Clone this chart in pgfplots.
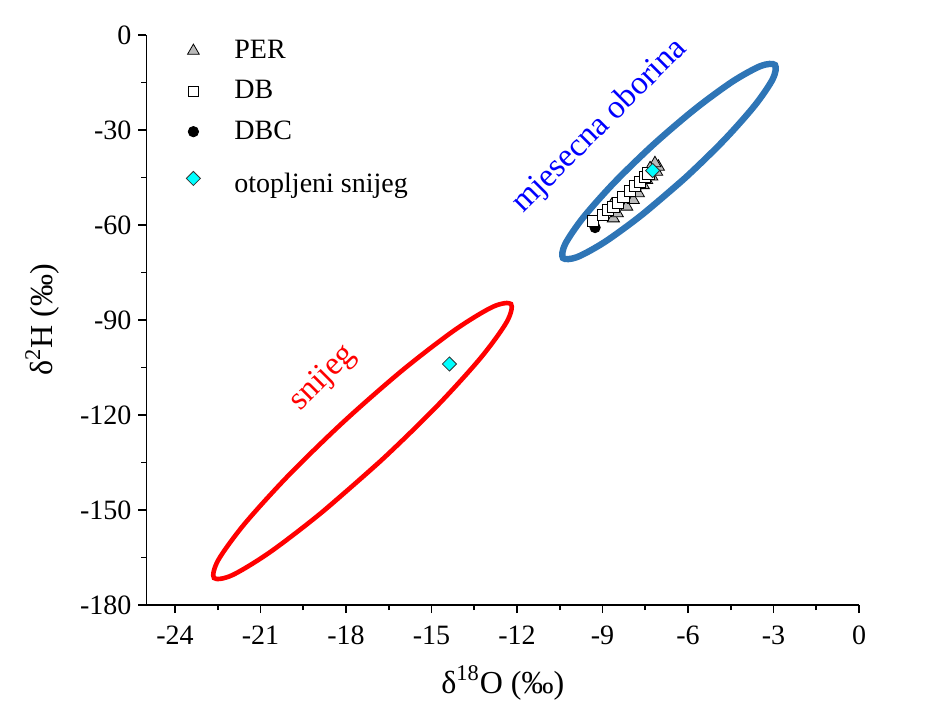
\documentclass[border=0pt]{standalone}
\usepackage{fontspec}
\setmainfont{Liberation Serif}
\usepackage{pgfplots}
\pgfplotsset{compat=1.18}
\definecolor{ellblue}{RGB}{46,117,182}
\definecolor{trigray}{RGB}{185,185,185}
\definecolor{aqua}{RGB}{0,255,255}
\begin{document}
\begin{tikzpicture}
\begin{axis}[
  scale only axis, width=356.25pt, height=285pt,
  xmin=-25, xmax=0, ymin=-180, ymax=0,
  axis x line*=bottom, axis y line*=left,
  axis line style={line width=0.8pt, black},
  xtick={-24,-21,...,0}, ytick={-180,-150,...,0},
  minor x tick num=1, minor y tick num=1,
  tick align=outside, major tick length=4pt, minor tick length=2.5pt,
  tick style={line width=0.8pt, black},
  tick label style={font=\fontsize{14}{16}\selectfont},
  xticklabel style={yshift=-3pt},
  /pgf/number format/assume math mode=true,
  xlabel={δ\textsuperscript{18}O (‰)}, ylabel={δ\textsuperscript{2}H (‰)},
  every axis x label/.style={at={(rel axis cs:0.5,0)}, anchor=center, yshift=-39pt, font=\fontsize{16}{18}\selectfont},
  every axis y label/.style={at={(rel axis cs:0,0.5)}, xshift=-52pt, rotate=90, anchor=center, font=\fontsize{16}{18}\selectfont},
  legend image code/.code={\path[draw=none,fill=none] (-7pt,0pt) -- (18.5pt,0pt); \draw[#1] plot coordinates {(0pt,0pt)};},
  legend style={draw=none, fill=none, at={(axis cs:-24.07,1)}, anchor=north west, font=\fontsize{14}{16}\selectfont, row sep=5.5pt},
  legend cell align=left,
  clip=false,
]
\addlegendimage{only marks, mark=triangle*, mark size=3.4pt, mark options={fill=trigray, draw=black, line width=0.4pt}}
\addlegendentry{PER}
\addlegendimage{only marks, mark=square*, mark size=2.5pt, mark options={fill=white, draw=black, line width=0.4pt}}
\addlegendentry{DB}
\addlegendimage{only marks, mark=*, mark size=2.6pt, mark options={fill=black, draw=black}}
\addlegendentry{DBC}
\addlegendimage{only marks, mark=square*, mark size=2.5pt, mark options={rotate=45, fill=aqua, draw=black!80, line width=0.4pt}}
\addlegendentry{\rule{0pt}{15.5pt}otopljeni snijeg}

% ellipses
\addplot[forget plot, ellblue, line width=3.2pt, smooth] coordinates {
(-6.123,-45.32) (-7.587,-56.57) (-8.912,-65.30) (-9.895,-70.15) (-10.386,-70.42)
(-10.311,-66.05) (-9.682,-57.70) (-8.593,-46.65) (-7.211,-34.58) (-5.747,-23.33)
(-4.422,-14.60) (-3.439,-9.75) (-2.948,-9.48) (-3.023,-13.85) (-3.652,-22.20)
(-4.741,-33.25) (-6.123,-45.32) (-7.587,-56.57)};
\addplot[forget plot, red, line width=2.3pt, smooth] coordinates {
(-16.779,-134.46) (-18.822,-150.55) (-20.652,-163.22) (-21.989,-170.57) (-22.632,-171.47)
(-22.481,-165.79) (-21.560,-154.38) (-20.008,-138.99) (-18.063,-121.96) (-16.020,-105.87)
(-14.190,-93.20) (-12.853,-85.85) (-12.210,-84.95) (-12.361,-90.63) (-13.282,-102.04)
(-14.834,-117.43) (-16.779,-134.46) (-18.822,-150.55)};

% DBC
\addplot[forget plot, only marks, mark=*, mark size=2.6pt, mark options={fill=black, draw=black}] coordinates {
(-9.26,-60.8) (-8.3,-52.0) (-7.8,-48.0) (-7.4,-44.5)};
% PER
\addplot[forget plot, only marks, mark=triangle*, mark size=3.5pt, mark options={fill=trigray, draw=black, line width=0.4pt}] coordinates {
(-8.62,-57.9) (-8.48,-56.3) (-8.91,-55.8) (-8.68,-53.7) (-8.15,-54.2) (-7.92,-52.1)
(-7.74,-50.0) (-7.57,-47.4) (-7.45,-45.8) (-7.27,-44.7) (-7.10,-43.2) (-7.04,-41.6)
(-7.16,-40.5) (-7.33,-42.1)};
% DB
\addplot[forget plot, only marks, mark=square*, mark size=2.8pt, mark options={fill=white, draw=black, line width=0.4pt}] coordinates {
(-9.33,-58.6) (-8.99,-56.8) (-8.80,-55.3) (-8.62,-54.2) (-8.45,-53.0) (-8.27,-51.1)
(-8.04,-49.2) (-7.86,-47.7) (-7.68,-46.3) (-7.51,-44.7) (-7.39,-43.7)};
% otopljeni snijeg
\addplot[forget plot, only marks, mark=square*, mark size=2.5pt, mark options={rotate=45, fill=aqua, draw=black!80, line width=0.4pt}] coordinates {
(-7.24,-42.8) (-14.37,-103.9)};

\node[rotate=45, text=blue, font=\fontsize{16.5}{19}\selectfont] at (axis cs:-9.09,-28.8) {mjesecna oborina};
\node[rotate=45, text=red, font=\fontsize{16.5}{19}\selectfont] at (axis cs:-18.8,-108.5) {snijeg};
\coordinate (sw) at (rel axis cs:0,0);
\end{axis}
\pgfresetboundingbox
\path (sw) ++(-73.25pt,-52pt) rectangle ++(468pt,354.5pt);
\end{tikzpicture}
\end{document}
